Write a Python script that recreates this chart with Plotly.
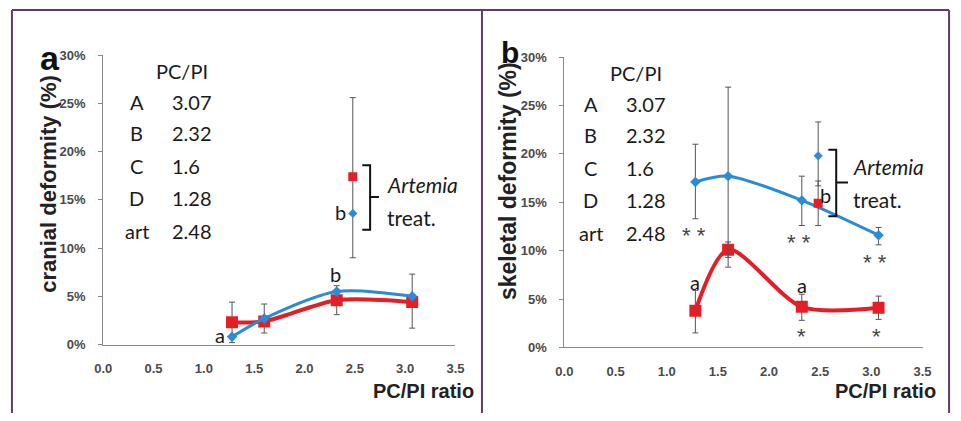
import plotly.graph_objects as go

W, H = 961, 421

# ---------------- data ----------------
ratios = [1.28, 1.6, 2.32, 3.07]
artemia_ratio = [2.48]

# panel a : cranial deformity (%)
a_red = [2.3, 2.4, 4.6, 4.4]
a_red_hi = [4.4, 4.2, 6.1, 7.3]
a_red_lo = [0.2, 1.2, 3.1, 1.7]
a_blue = [0.8, 2.7, 5.5, 5.0]
a_art_red = [17.4]
a_art_red_hi = [25.6]
a_art_red_lo = [9.0]
a_art_blue = [13.6]

# panel b : skeletal deformity (%)
b_blue = [17.1, 17.7, 15.2, 11.6]
b_blue_hi = [21.0, 26.9, 17.7, 12.4]
b_blue_lo = [13.3, 8.3, 12.6, 10.6]
b_red = [3.8, 10.1, 4.2, 4.1]
b_red_hi = [5.9, 10.9, 5.5, 5.3]
b_red_lo = [1.5, 9.3, 2.8, 2.9]
b_art_blue = [19.8]
b_art_blue_hi = [23.3]
b_art_blue_lo = [16.7]
b_art_red = [14.9]
b_art_red_hi = [17.2]
b_art_red_lo = [12.6]

table_labels = ["A", "B", "C", "D", "art"]
table_values = ["3.07", "2.32", "1.6", "1.28", "2.48"]
x_ticks = [0.0, 0.5, 1.0, 1.5, 2.0, 2.5, 3.0, 3.5]
y_ticks = [0, 5, 10, 15, 20, 25, 30]

RED = "#e41e26"
BLUE = "#2a8bd6"
ERR = "#555555"
FRAME = "#5e3b70"
NARROW = "Liberation Sans Narrow, Arial Narrow, Liberation Sans, Arial"
SANS = "Liberation Sans, Arial"
CAL = "Lato, Open Sans, sans-serif"


def px(x):
    return x / W


def py(y):
    return 1 - y / H


def err(vals, hi, lo):
    return dict(type="data", symmetric=False,
                array=[h - v for v, h in zip(vals, hi)],
                arrayminus=[v - l for v, l in zip(vals, lo)],
                color=ERR, thickness=1, width=3)


fig = go.Figure()

# ---- panel a ----
fig.add_trace(go.Scatter(x=ratios, y=a_red, mode="lines+markers", xaxis="x", yaxis="y",
                         line=dict(color=RED, width=4, shape="spline", smoothing=0.8),
                         marker=dict(symbol="square", size=12, color=RED),
                         error_y=err(a_red, a_red_hi, a_red_lo), showlegend=False))
fig.add_trace(go.Scatter(x=ratios, y=a_blue, mode="lines+markers", xaxis="x", yaxis="y",
                         line=dict(color=BLUE, width=3, shape="spline", smoothing=0.8),
                         marker=dict(symbol="diamond", size=8, color=BLUE),
                         showlegend=False))
fig.add_trace(go.Scatter(x=artemia_ratio, y=a_art_red, mode="markers", xaxis="x", yaxis="y",
                         marker=dict(symbol="square", size=9, color=RED),
                         error_y=err(a_art_red, a_art_red_hi, a_art_red_lo), showlegend=False))
fig.add_trace(go.Scatter(x=artemia_ratio, y=a_art_blue, mode="markers", xaxis="x", yaxis="y",
                         marker=dict(symbol="diamond", size=7, color=BLUE), showlegend=False))

# ---- panel b ----
fig.add_trace(go.Scatter(x=ratios, y=b_red, mode="lines+markers", xaxis="x2", yaxis="y2",
                         line=dict(color=RED, width=4, shape="spline", smoothing=0.8),
                         marker=dict(symbol="square", size=12, color=RED),
                         error_y=err(b_red, b_red_hi, b_red_lo), showlegend=False))
fig.add_trace(go.Scatter(x=ratios, y=b_blue, mode="lines+markers", xaxis="x2", yaxis="y2",
                         line=dict(color=BLUE, width=3, shape="spline", smoothing=0.8),
                         marker=dict(symbol="diamond", size=8, color=BLUE),
                         error_y=err(b_blue, b_blue_hi, b_blue_lo), showlegend=False))
fig.add_trace(go.Scatter(x=artemia_ratio, y=b_art_blue, mode="markers", xaxis="x2", yaxis="y2",
                         marker=dict(symbol="diamond", size=7, color=BLUE),
                         error_y=err(b_art_blue, b_art_blue_hi, b_art_blue_lo), showlegend=False))
fig.add_trace(go.Scatter(x=artemia_ratio, y=b_art_red, mode="markers", xaxis="x2", yaxis="y2",
                         marker=dict(symbol="square", size=9, color=RED),
                         error_y=err(b_art_red, b_art_red_hi, b_art_red_lo), showlegend=False))

tickfont = dict(family=SANS, size=13, color="#4a4a4a", weight="bold")


def xaxis(x0, x1, anchor):
    return dict(domain=[px(x0), px(x1)], range=[0, 3.5], anchor=anchor,
                tickvals=x_ticks, ticktext=[f"{v:.1f}" for v in x_ticks],
                showgrid=False, zeroline=False, showline=True, linecolor="#8a8a8a",
                linewidth=1, ticks="", tickfont=tickfont, ticklabelstandoff=12,
                fixedrange=True)


def yaxis(y0, y1, anchor):
    return dict(domain=[py(y0), py(y1)], range=[0, 30], anchor=anchor,
                tickvals=y_ticks, ticktext=[f"{v}%" for v in y_ticks],
                showgrid=False, zeroline=False, showline=True, linecolor="#8a8a8a",
                linewidth=1, ticks="outside", ticklen=4, tickcolor="#8a8a8a",
                tickfont=tickfont, ticklabelstandoff=10, fixedrange=True)


annotations = []


def ptext(x, y, text, size=20, family=CAL, color="#1a1a1a", xanchor="center", **kw):
    annotations.append(dict(x=px(x), y=py(y), xref="paper", yref="paper", text=text,
                            showarrow=False, xanchor=xanchor, yanchor="middle",
                            font=dict(size=size, family=family, color=color), **kw))


def dtext(ax, x, y, text, size=20, color="#1a1a1a", family=CAL):
    annotations.append(dict(x=x, y=y, xref=ax[0], yref=ax[1], text=text, showarrow=False,
                            xanchor="center", yanchor="middle",
                            font=dict(size=size, family=family, color=color)))


# panel letters & titles
ptext(42, 53, "<b>a</b>", size=34, family=SANS, color="#111")
ptext(511, 47, "<b>b</b>", size=30, family=NARROW, color="#111")
ptext(40, 183, "<b>cranial deformity (%)</b>", size=22, family=SANS, color="#222", textangle=-90)
ptext(508, 180, "<b>skeletal deformity (%)</b>", size=23, family=SANS, color="#222", textangle=-90)
ptext(422, 398, "<b>PC/PI ratio</b>", size=20, family=SANS, color="#222")
ptext(893, 398, "<b>PC/PI ratio</b>", size=20, family=SANS, color="#222")

# tables
for (hx, lx, vx, ys) in [(205, 130, 164, [99, 131, 165, 198, 232]),
                         (668, 593, 627, [101, 133, 167, 200, 234])]:
    ptext(hx, ys[0] - 33, "PC/PI", xanchor="right")
    for lab, val, yy in zip(table_labels, table_values, ys):
        ptext(lx, yy, lab)
        ptext(vx, yy, val, xanchor="left")

# Artemia labels
ptext(383, 184, "<i>Artemia</i>", size=21, xanchor="left")
ptext(383, 218, "treat.", size=21, xanchor="left")
ptext(858, 165, "<i>Artemia</i>", size=21, xanchor="left")
ptext(858, 200, "treat.", size=21, xanchor="left")

# significance letters, panel a
dtext(("x", "y"), 1.16, 1.0, "a")
dtext(("x", "y"), 2.31, 7.3, "b")
dtext(("x", "y"), 2.36, 13.7, "b")
# panel b
dtext(("x2", "y2"), 1.275, 6.8, "a")
dtext(("x2", "y2"), 2.32, 6.5, "a")
dtext(("x2", "y2"), 2.55, 15.75, "b")
STAR = dict(size=22, color="#444", family=SANS)
dtext(("x2", "y2"), 1.27, 11.6, "* *", **STAR)
dtext(("x2", "y2"), 2.29, 10.8, "* *", **STAR)
dtext(("x2", "y2"), 3.04, 8.8, "* *", **STAR)
dtext(("x2", "y2"), 1.275, -0.2, "*", **STAR)
dtext(("x2", "y2"), 2.32, 1.1, "*", **STAR)
dtext(("x2", "y2"), 3.05, 1.1, "*", **STAR)

shapes = []


def pline(x0, y0, x1, y1, color=FRAME, width=2):
    shapes.append(dict(type="line", xref="paper", yref="paper", x0=px(x0), y0=py(y0),
                       x1=px(x1), y1=py(y1), line=dict(color=color, width=width)))


def bracket(xl, xv, xt, ytop, ybot, ymid):
    path = (f"M {px(xl)} {py(ytop)} L {px(xv)} {py(ytop)} L {px(xv)} {py(ybot)} "
            f"L {px(xl)} {py(ybot)} M {px(xv)} {py(ymid)} L {px(xt)} {py(ymid)}")
    shapes.append(dict(type="path", xref="paper", yref="paper", path=path,
                       line=dict(color="#111", width=2)))


# frame
pline(3, 3, 958, 3)
pline(3, 3, 3, 421)
pline(958, 3, 958, 421)
pline(482, 3, 482, 421)

bracket(360, 368, 377, 164, 231, 197)
bracket(835, 843, 855, 148, 217, 182)

fig.update_layout(
    width=W, height=H,
    margin=dict(l=0, r=0, t=0, b=0),
    paper_bgcolor="white", plot_bgcolor="rgba(0,0,0,0)",
    xaxis=xaxis(96, 455, "y"),
    yaxis=yaxis(350, 50, "x"),
    xaxis2=xaxis(566, 931, "y2"),
    yaxis2=yaxis(353, 52, "x2"),
    annotations=annotations,
    shapes=shapes,
    showlegend=False,
)

fig.write_html("out.html", config={"displayModeBar": False},
               post_script="document.body.style.margin='0';document.body.style.overflow='hidden';")
